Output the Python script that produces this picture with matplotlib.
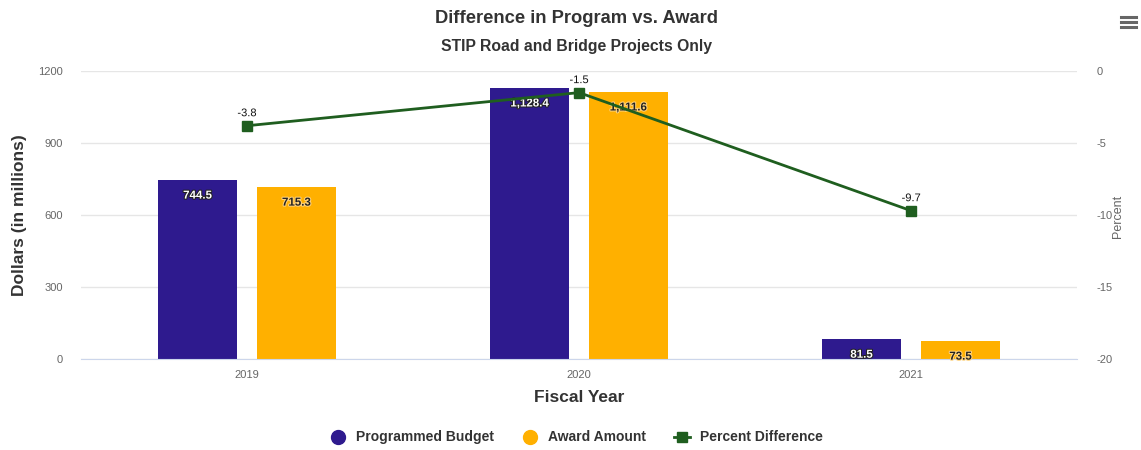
import matplotlib.pyplot as plt
import matplotlib.patheffects as pe
from matplotlib.lines import Line2D
import numpy as np

plt.rcParams['font.family'] = ['Liberation Sans', 'DejaVu Sans']
plt.rcParams['axes.unicode_minus'] = False

# Datos del grafico
years = ['2019', '2020', '2021']
programmed = [744.5, 1128.4, 81.5]
award = [715.3, 1111.6, 73.5]
pct_diff = [-3.8, -1.5, -9.7]

c_prog = '#2e1a8e'
c_award = '#ffb000'
c_line = '#1f5e1f'

fig = plt.figure(figsize=(11.41, 4.5), dpi=100)
ax = fig.add_axes([0.071, 0.2022, 0.873, 0.640])
ax2 = ax.twinx()

x = np.arange(len(years))
w = 0.238
off = 0.149

b1 = ax.bar(x - off, programmed, w, color=c_prog, zorder=2)
b2 = ax.bar(x + off, award, w, color=c_award, zorder=2)

# etiquetas de barras
for rect, v in zip(b1, programmed):
    ax.annotate(f'{v:,.1f}', (rect.get_x() + rect.get_width() / 2, v),
                xytext=(0, -11), textcoords='offset points', ha='center', va='center',
                fontsize=8.3, fontweight='bold', color='white', zorder=5,
                path_effects=[pe.withStroke(linewidth=1.5, foreground='#222222')])
for rect, v in zip(b2, award):
    ax.annotate(f'{v:,.1f}', (rect.get_x() + rect.get_width() / 2, v),
                xytext=(0, -11), textcoords='offset points', ha='center', va='center',
                fontsize=8.3, fontweight='bold', color='#222222', zorder=5,
                path_effects=[pe.withStroke(linewidth=1.5, foreground='#ffd27a')])

ax.set_xlim(-0.5, 2.5)
ax.set_ylim(0, 1200)
ax.set_yticks([0, 300, 600, 900, 1200])
ax.set_xticks(x)
ax.set_xticklabels(years)
ax.grid(axis='y', color='#e6e6e6', linewidth=1, zorder=0)
ax.set_axisbelow(True)
for s in ['top', 'right', 'left']:
    ax.spines[s].set_visible(False)
ax.spines['bottom'].set_color('#ccd6eb')
ax.tick_params(axis='y', length=0, pad=13, labelsize=8, labelcolor='#666666')
ax.tick_params(axis='x', length=0, pad=8, labelsize=8, labelcolor='#666666')
ax.set_ylabel('Dollars (in millions)', fontsize=12.5, fontweight='bold', color='#333333', labelpad=8)
ax.set_xlabel('Fiscal Year', fontsize=12.5, fontweight='bold', color='#333333', labelpad=7)

# linea de porcentaje
ax2.plot(x, pct_diff, color=c_line, linewidth=2, marker='s', markersize=7, zorder=4)
for xi, v in zip(x, pct_diff):
    ax2.annotate(f'{v}', (xi, v), xytext=(0, 9), textcoords='offset points',
                 ha='center', va='center', fontsize=8, color='#111111',
                 path_effects=[pe.withStroke(linewidth=2, foreground='white')])
ax2.set_ylim(-20, 0)
ax2.set_yticks([-20, -15, -10, -5, 0])
for s in ['top', 'right', 'left', 'bottom']:
    ax2.spines[s].set_visible(False)
ax2.tick_params(axis='y', length=0, pad=14, labelsize=8, labelcolor='#666666')
for lab in ax2.get_yticklabels():
    lab.set_horizontalalignment('left')
fig.text(1118 / 1141, 1 - 216 / 450, 'Percent', rotation=90, ha='center', va='center',
         fontsize=9, color='#666666')

fig.text(0.505, 0.958, 'Difference in Program vs. Award', ha='center', va='center',
         fontsize=13.2, fontweight='bold', color='#333333')
fig.text(0.505, 0.897, 'STIP Road and Bridge Projects Only', ha='center', va='center',
         fontsize=11.3, fontweight='bold', color='#333333')

# leyenda
handles = [
    Line2D([], [], linestyle='none', marker='o', markersize=10, color=c_prog),
    Line2D([], [], linestyle='none', marker='o', markersize=10, color=c_award),
    Line2D([], [], color=c_line, linewidth=2, marker='s', markersize=7),
]
fig.legend(handles, ['Programmed Budget', 'Award Amount', 'Percent Difference'],
           loc='center', bbox_to_anchor=(0.505, 0.028), ncol=3, frameon=False,
           labelcolor='#333333', handlelength=1.2, handletextpad=0.7,
           columnspacing=2.0, prop={'weight': 'bold', 'size': 10})

# icono de menu
for yy in [17, 22, 27]:
    fig.add_artist(Line2D([1121 / 1141, 1136 / 1141], [1 - yy / 450, 1 - yy / 450],
                          color='#666666', linewidth=2.2, transform=fig.transFigure))

fig.savefig('out.png', dpi=100)
